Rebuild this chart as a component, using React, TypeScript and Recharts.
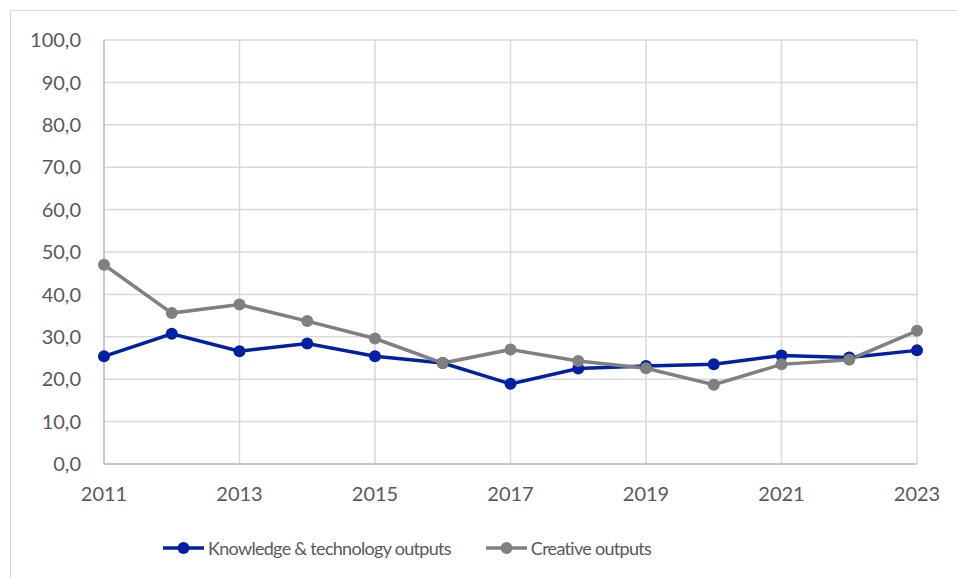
import { LineChart, Line, XAxis, YAxis, CartesianGrid } from 'recharts';

const years = [2011, 2012, 2013, 2014, 2015, 2016, 2017, 2018, 2019, 2020, 2021, 2022, 2023];
const knowledgeOutputs = [25.4, 30.7, 26.6, 28.4, 25.4, 23.8, 18.9, 22.5, 23.1, 23.5, 25.6, 25.1, 26.8];
const creativeOutputs = [47.0, 35.6, 37.6, 33.7, 29.6, 23.8, 27.0, 24.3, 22.6, 18.7, 23.5, 24.6, 31.4];
const xTicks = [2011, 2013, 2015, 2017, 2019, 2021, 2023];
const yTicks = [0, 10, 20, 30, 40, 50, 60, 70, 80, 90, 100];

const series = [
  { key: 'knowledge', name: 'Knowledge & technology outputs', color: '#0020A8' },
  { key: 'creative', name: 'Creative outputs', color: '#808080' },
];

const data = years.map((year, i) => ({
  year,
  knowledge: knowledgeOutputs[i],
  creative: creativeOutputs[i],
}));

const FONT = 'Lato, "Open Sans", sans-serif';
const TEXT = '#595959';

const formatValue = (v: number) => v.toFixed(1).replace('.', ',');

const App = () => {
  return (
    <div
      style={{
        position: 'absolute',
        left: 0,
        top: 0,
        width: 957,
        height: 578,
        overflow: 'hidden',
        background: '#fff',
        fontFamily: FONT,
      }}
    >
      <div
        style={{
          position: 'absolute',
          left: 10,
          top: 10,
          width: 960,
          height: 600,
          border: '1.5px solid #d9d9d9',
        }}
      />
      <LineChart
        width={957}
        height={578}
        data={data}
        margin={{ top: 40, right: 40, left: 0, bottom: 74 }}
        style={{ position: 'absolute', left: 0, top: 0 }}
      >
        <CartesianGrid stroke="#d9d9d9" strokeWidth={1.5} />
        <XAxis
          dataKey="year"
          type="number"
          domain={[2011, 2023]}
          ticks={xTicks}
          height={40}
          tickLine={false}
          tickSize={0}
          tickMargin={23}
          axisLine={{ stroke: '#bfbfbf', strokeWidth: 1.5 }}
          tick={{ fill: TEXT, fontSize: 20, fontFamily: FONT }}
        />
        <YAxis
          domain={[0, 100]}
          ticks={yTicks}
          width={104}
          tickLine={false}
          tickSize={0}
          tickMargin={23}
          axisLine={{ stroke: '#bfbfbf', strokeWidth: 1.5 }}
          tickFormatter={formatValue}
          tick={{ fill: TEXT, fontSize: 20, fontFamily: FONT }}
          interval={0}
        />
        {series.map((s) => (
          <Line
            key={s.key}
            dataKey={s.key}
            name={s.name}
            stroke={s.color}
            strokeWidth={3.5}
            dot={{ r: 6, fill: s.color, stroke: s.color, strokeWidth: 0 }}
            isAnimationActive={false}
          />
        ))}
      </LineChart>
      <div
        style={{
          position: 'absolute',
          top: 536,
          left: 163,
          display: 'flex',
          gap: 35,
          color: TEXT,
          fontSize: 18,
          letterSpacing: -0.7,
          lineHeight: '24px',
        }}
      >
        {series.map((s) => (
          <div key={s.key} style={{ display: 'flex', alignItems: 'center' }}>
            <svg width={41} height={24} style={{ marginRight: 4 }}>
              <line x1={0} x2={41} y1={12} y2={12} stroke={s.color} strokeWidth={3.5} />
              <circle cx={20.5} cy={12} r={6} fill={s.color} />
            </svg>
            <span>{s.name}</span>
          </div>
        ))}
      </div>
    </div>
  );
};

export default App;
